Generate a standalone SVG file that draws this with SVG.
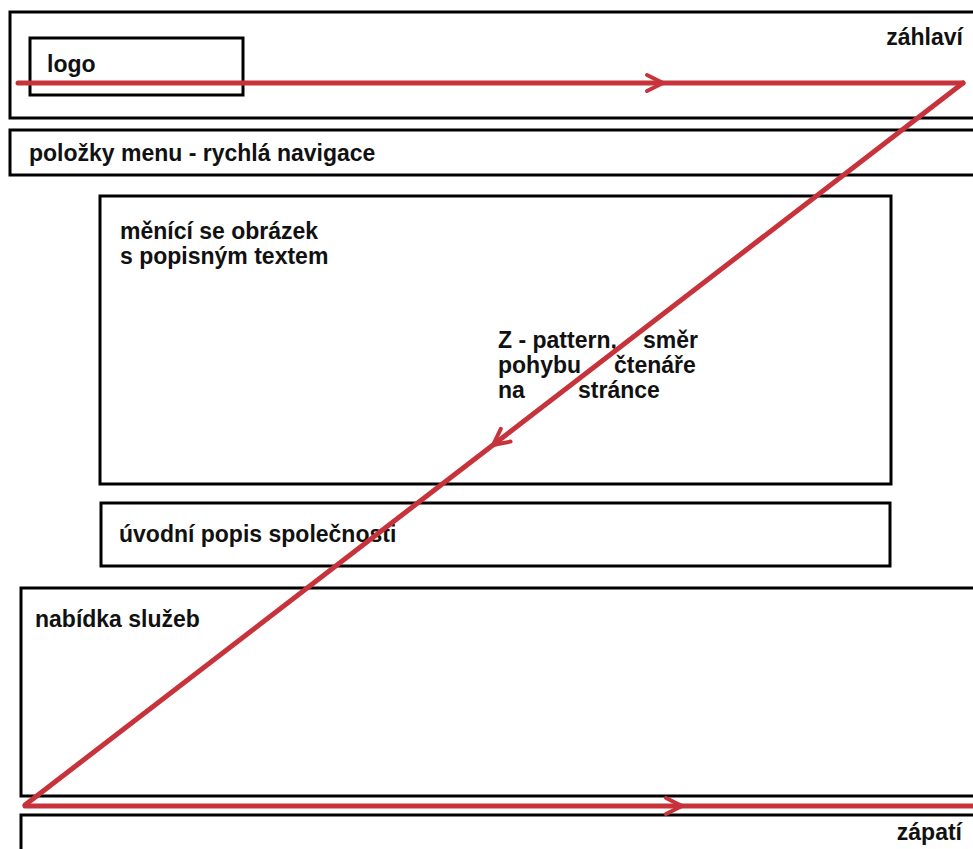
<svg xmlns="http://www.w3.org/2000/svg" width="973" height="849" viewBox="0 0 973 849">
<style>
.box{fill:none;stroke:#000;stroke-width:3}
.t{font-family:"Liberation Sans",Arial,sans-serif;font-weight:bold;font-size:23px;fill:#111}
.z{fill:none;stroke:#c8323a;stroke-width:5;stroke-linecap:round;stroke-linejoin:round}
</style>
<defs>
<marker id="chev" markerUnits="userSpaceOnUse" viewBox="-20 -12 24 24" refX="0" refY="0" markerWidth="24" markerHeight="24" orient="auto" overflow="visible">
<path d="M-16,-8 L0,0 L-16,8" fill="none" stroke="#c8323a" stroke-width="4" stroke-linecap="round" stroke-linejoin="round"/>
</marker>
</defs>
<rect width="973" height="849" fill="#fff"/>
<g id="zahlavi">
<rect class="box" x="10" y="12" width="980" height="106"/>
<text class="t" x="963" y="45" text-anchor="end">záhlaví</text>
</g>
<g id="logo">
<rect class="box" x="30" y="38" width="213" height="57"/>
<text class="t" x="47" y="72">logo</text>
</g>
<g id="menu">
<rect class="box" x="10" y="130" width="980" height="45"/>
<text class="t" x="29" y="161">položky menu - rychlá navigace</text>
</g>
<g id="obrazek">
<rect class="box" x="100" y="196" width="791" height="288"/>
<text class="t" x="120" y="239">měnící se obrázek</text>
<text class="t" x="120" y="264">s popisným textem</text>
</g>
<g id="zpattern-label">
<text class="t" y="348"><tspan x="498">Z - pattern,</tspan><tspan x="643">směr</tspan></text>
<text class="t" y="373"><tspan x="498">pohybu</tspan><tspan x="614">čtenáře</tspan></text>
<text class="t" y="398"><tspan x="498">na</tspan><tspan x="578">stránce</tspan></text>
</g>
<g id="uvod">
<rect class="box" x="101" y="503" width="789" height="63"/>
<text class="t" x="119" y="542">úvodní popis společnosti</text>
</g>
<g id="nabidka">
<rect class="box" x="21" y="588" width="970" height="208"/>
<text class="t" x="35" y="627">nabídka služeb</text>
</g>
<g id="zapati">
<rect class="box" x="21" y="815" width="970" height="50"/>
<text class="t" x="962" y="840" text-anchor="end">zápatí</text>
</g>
<g id="connectors">
<path class="z" d="M18,83 L663,83 L963,83" marker-mid="url(#chev)"/>
<path class="z" d="M963,83 L493,445 L25,805" marker-mid="url(#chev)"/>
<path class="z" d="M25,806 L682,806 L980,806" marker-mid="url(#chev)"/>
</g>
</svg>
